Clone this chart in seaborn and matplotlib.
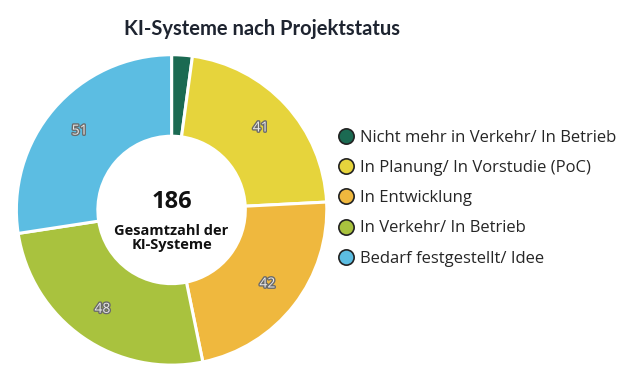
# KI-Systeme nach Projektstatus - donut chart

import matplotlib.pyplot as plt
import matplotlib.patheffects as pe
from matplotlib.lines import Line2D
import numpy as np
import seaborn as sns


categories = [
    "Nicht mehr in Verkehr/ In Betrieb",
    "In Planung/ In Vorstudie (PoC)",
    "In Entwicklung",
    "In Verkehr/ In Betrieb",
    "Bedarf festgestellt/ Idee",
]
values = [4, 41, 42, 48, 51]
colors = ["#1b6a52", "#e6d43c", "#efb83e", "#a9c23e", "#5cbde2"]
total = sum(values)

sns.set_theme(style="white")
plt.rcParams["font.family"] = ["Open Sans", "DejaVu Sans"]

fig = plt.figure(figsize=(6.32, 3.67), dpi=100)
fig.patch.set_facecolor("white")

ax = fig.add_axes([0.0245, 0.003, 0.494, 0.85])
wedges, _ = ax.pie(
    values,
    colors=colors,
    startangle=90,
    counterclock=False,
    radius=1.0,
    wedgeprops=dict(width=0.525, edgecolor="white", linewidth=2.2, joinstyle="round"),
)
ax.set_aspect("equal")
ax.set_xlim(-1.005, 1.005)
ax.set_ylim(-1.005, 1.005)

# value labels inside the ring
angle = 90.0
for w, v in zip(wedges, values):
    span = 360.0 * v / total
    mid = np.deg2rad(angle - span / 2)
    angle -= span
    if v < 10:
        continue
    r = 0.78
    ax.text(
        r * np.cos(mid), r * np.sin(mid), str(v),
        ha="center", va="center", fontsize=10, color="#e8e8e8",
        path_effects=[pe.withStroke(linewidth=2, foreground="#6a6a6a")],
    )

ax.text(0, 0.05, str(total), ha="center", va="center", fontsize=17,
        fontweight="bold", color="#111111")
ax.text(0, -0.18, "Gesamtzahl der\nKI-Systeme", ha="center", va="center",
        fontsize=10.5, fontweight="bold", color="#111111", linespacing=1.05)

fig.text(0.414, 0.92, "KI-Systeme nach Projektstatus", ha="center", va="center",
         fontsize=14.5, fontweight="bold", color="#1e2430", family=["Lato", "DejaVu Sans"])

handles = [
    Line2D([0], [0], marker="o", linestyle="", markersize=11,
           markerfacecolor=c, markeredgecolor="#222222", markeredgewidth=1.2)
    for c in colors
]
fig.legend(
    handles, categories, loc="center left", bbox_to_anchor=(0.525, 0.46),
    frameon=False, fontsize=12, handletextpad=0.4, labelspacing=0.85,
    handlelength=0.9, borderaxespad=0,
)

fig.savefig("out.png", dpi=100, facecolor="white")
